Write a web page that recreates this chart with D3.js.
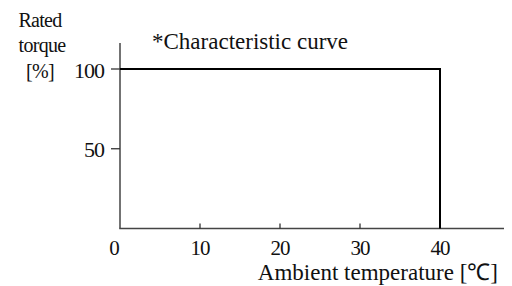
<!DOCTYPE html>
<html>
<head>
<meta charset="utf-8">
<script src="https://cdn.jsdelivr.net/npm/d3@7"></script>
</head>
<body style="margin:0; background:#fff">
<script>
// data
var temps = [0, 40, 40];
var torque = [100, 100, 0];
var xTicks = [0, 10, 20, 30, 40];
var yTicks = [50, 100];
var yTitle = ['Rated', 'torque', '[%]'];

var serif = '"Liberation Serif"';
var width = 512, height = 286;
var x = d3.scaleLinear().domain([0, 48]).range([120, 504]);
var y = d3.scaleLinear().domain([0, 100]).range([228.5, 69]);

var svg = d3.select('body').append('svg')
    .attr('width', width)
    .attr('height', height);

//every text gets the font set on itself
function label(sel, size) {
    return sel.style('font-family', serif)
        .style('font-size', size + 'px')
        .style('fill', '#111');
}

//axis lines
svg.append('line')
    .attr('x1', x(0)).attr('x2', x(0))
    .attr('y1', 43).attr('y2', y(0))
    .attr('stroke', '#444').attr('stroke-width', 1.5);
svg.append('line')
    .attr('x1', x(0) - 0.75).attr('x2', x(48))
    .attr('y1', y(0)).attr('y2', y(0))
    .attr('stroke', '#444').attr('stroke-width', 1.5);

//y ticks, pointing out
svg.selectAll('.ytick').data(yTicks).enter().append('line')
    .attr('x1', x(0) - 9).attr('x2', x(0))
    .attr('y1', function(d) { return y(d); })
    .attr('y2', function(d) { return y(d); })
    .attr('stroke', '#333').attr('stroke-width', 1.3);
label(svg.selectAll('.ylab').data(yTicks).enter().append('text'), 22)
    .attr('x', x(0) - 16)
    .attr('y', function(d) { return y(d) + 8.5; })
    .attr('text-anchor', 'end')
    .style('letter-spacing', '-1px')
    .text(function(d) { return d; });

//x ticks, pointing in
svg.selectAll('.xtick').data(xTicks.slice(1)).enter().append('line')
    .attr('x1', function(d) { return x(d); })
    .attr('x2', function(d) { return x(d); })
    .attr('y1', y(0) - 5).attr('y2', y(0))
    .attr('stroke', '#333').attr('stroke-width', 1.3);
label(svg.selectAll('.xlab').data(xTicks).enter().append('text'), 21)
    .attr('x', function(d) { return x(d) + (d == 0 ? -6 : 0); })
    .attr('y', 255)
    .attr('text-anchor', 'middle')
    .style('letter-spacing', '-1px')
    .text(function(d) { return d; });

//the curve
var line = d3.line()
    .x(function(d, i) { return x(temps[i]); })
    .y(function(d) { return y(d); });
svg.append('path')
    .attr('d', line(torque))
    .attr('fill', 'none')
    .attr('stroke', '#000')
    .attr('stroke-width', 2);

//titles
label(svg.append('text'), 23)
    .attr('x', 152).attr('y', 49)
    .text('*Characteristic curve');

label(svg.append('text'), 23)
    .attr('x', 498).attr('y', 280)
    .attr('text-anchor', 'end')
    .text('Ambient temperature [℃]');

label(svg.selectAll('.ytitle').data(yTitle).enter().append('text'), 20)
    .attr('x', function(d, i) { return i == 1 ? 42 : 40; })
    .attr('y', function(d, i) { return [27, 52, 78][i]; })
    .attr('text-anchor', 'middle')
    .style('letter-spacing', '-0.7px')
    .text(function(d) { return d; });
</script>
</body>
</html>
